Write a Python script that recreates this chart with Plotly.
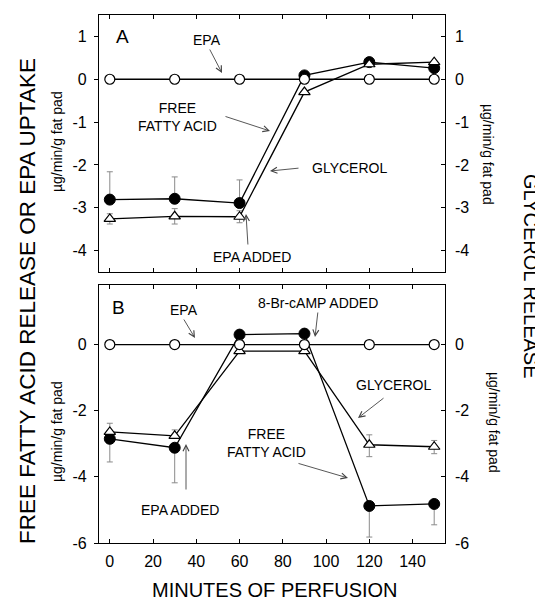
import plotly.graph_objects as go

# ---------------- data ----------------
minutes = [0, 30, 60, 90, 120, 150]

# Panel A
epa_a = [0, 0, 0, 0, 0, 0]
ffa_a = [-2.81, -2.79, -2.89, 0.09, 0.40, 0.26]
ffa_a_err_up = [0.65, 0.51, 0.54, 0, 0, 0]
gly_a = [-3.26, -3.20, -3.21, -0.30, 0.35, 0.40]
gly_a_err = [0.12, 0.18, 0.14, 0, 0, 0]

# Panel B
epa_b = [0, 0, 0, 0, 0, 0]
ffa_b = [-2.85, -3.12, 0.30, 0.33, -4.88, -4.82]
ffa_b_err_down = [0.70, 1.06, 0, 0, 0.94, 0.63]
gly_b = [-2.64, -2.76, -0.20, -0.20, -3.03, -3.09]
gly_b_err_up = [0.26, 0.18, 0, 0, 0.30, 0.19]
gly_b_err_down = [0.05, 0.08, 0, 0, 0.36, 0.21]

x_ticks = [0, 20, 40, 60, 80, 100, 120, 140]
ya_ticks = [1, 0, -1, -2, -3, -4]
yb_ticks = [0, -2, -4, -6]
ya_labels = ["1", "0", "-1", "-2", "-3", "-4"]
yb_labels = ["0", "-2", "-4", "-6"]

# ---------------- layout geometry ----------------
# The page body adds an 8px margin; work in page pixels and subtract it.
OFF = 8
PAGE_W, PAGE_H = 543, 602
W, H = PAGE_W - OFF, PAGE_H - OFF
FR_L, FR_R, FR_T, FR_B = 99, 445, 15, 543   # frame edges in page pixels
L = FR_L - OFF
R = PAGE_W - FR_R
T = FR_T - OFF
B = PAGE_H - FR_B
PW = W - L - R
PH = H - T - B
FONT = "Liberation Sans, Arial, Helvetica, sans-serif"


def px(x):
    return (x - FR_L) / PW


def py(y):
    return (FR_B - y) / PH


a_dom = [py(272), 1.0]
b_dom = [0.0, py(285)]

fig = go.Figure()

err_style = dict(color="#8a8a8a", thickness=1, width=3)
line_style = dict(color="black", width=1.3)


def add_panel(xa, ya, ffa, ffa_err, gly, gly_err, epa):
    fig.add_trace(go.Scatter(
        x=minutes, y=ffa, xaxis=xa, yaxis=ya, mode="lines+markers",
        line=line_style,
        marker=dict(symbol="circle", size=11, color="black",
                    line=dict(color="black", width=1)),
        error_y=dict(type="data", **ffa_err, **err_style),
        showlegend=False, name="Free fatty acid"))
    fig.add_trace(go.Scatter(
        x=minutes, y=gly, xaxis=xa, yaxis=ya, mode="lines+markers",
        line=line_style,
        marker=dict(symbol="triangle-up", size=10, color="white",
                    line=dict(color="black", width=1.2)),
        error_y=dict(type="data", **gly_err, **err_style),
        showlegend=False, name="Glycerol"))
    fig.add_trace(go.Scatter(
        x=minutes, y=epa, xaxis=xa, yaxis=ya, mode="lines+markers",
        line=line_style,
        marker=dict(symbol="circle", size=10, color="white",
                    line=dict(color="black", width=1.2)),
        showlegend=False, name="EPA"))


add_panel("x", "y", ffa_a,
          dict(array=ffa_a_err_up, arrayminus=[0] * 6, symmetric=False),
          gly_a, dict(array=gly_a_err, symmetric=True), epa_a)
add_panel("x2", "y2", ffa_b,
          dict(array=[0] * 6, arrayminus=ffa_b_err_down, symmetric=False),
          gly_b, dict(array=gly_b_err_up, arrayminus=gly_b_err_down,
                      symmetric=False), epa_b)

# invisible traces to carry the right-hand (glycerol) axes
fig.add_trace(go.Scatter(x=minutes, y=gly_a, xaxis="x", yaxis="y3",
                         mode="markers", marker=dict(opacity=0),
                         hoverinfo="skip", showlegend=False))
fig.add_trace(go.Scatter(x=minutes, y=gly_b, xaxis="x2", yaxis="y4",
                         mode="markers", marker=dict(opacity=0),
                         hoverinfo="skip", showlegend=False))

tickfont = dict(family=FONT, size=16, color="black")
xcommon = dict(range=[-5, 155], tickvals=x_ticks, ticks="inside", ticklen=4,
               tickwidth=1, tickcolor="black", showline=True, linecolor="black",
               linewidth=1.2, mirror="ticks", showgrid=False, zeroline=False,
               tickfont=tickfont, domain=[0, 1], ticklabelstandoff=4)
ycommon = dict(ticks="outside", ticklen=4, tickwidth=1, tickcolor="black",
               showline=True, linecolor="black", linewidth=1.2, mirror=True,
               showgrid=False, zeroline=False, tickfont=tickfont,
               ticklabelstandoff=4)
yright = dict(side="right", ticks="inside", ticklen=4, tickwidth=1,
              tickcolor="black", showline=False, showgrid=False,
              zeroline=False, tickfont=tickfont, ticklabelstandoff=9)

fig.update_layout(
    width=W, height=H,
    margin=dict(l=L, r=R, t=T, b=B, pad=0),
    paper_bgcolor="white", plot_bgcolor="white",
    font=dict(family=FONT, color="black"),
    xaxis=dict(anchor="y", showticklabels=False, **xcommon),
    xaxis2=dict(anchor="y2", showticklabels=True, **xcommon),
    yaxis=dict(anchor="x", domain=a_dom, range=[-4.5, 1.5],
               tickvals=ya_ticks, ticktext=ya_labels, **ycommon),
    yaxis2=dict(anchor="x2", domain=b_dom, range=[-6, 1.8],
                tickvals=yb_ticks, ticktext=yb_labels, **ycommon),
    yaxis3=dict(overlaying="y", anchor="x", range=[-4.5, 1.5],
                tickvals=ya_ticks, ticktext=ya_labels, **yright),
    yaxis4=dict(overlaying="y2", anchor="x2", range=[-6, 1.8],
                tickvals=yb_ticks, ticktext=yb_labels, **yright),
)

ann = []


def text(x, y, s, size=14, angle=0):
    ann.append(dict(x=px(x), y=py(y), xref="paper", yref="paper", text=s,
                    showarrow=False, textangle=angle, xanchor="center",
                    yanchor="middle",
                    font=dict(family=FONT, size=size, color="black")))


def arrow(hx, hy, tx, ty):
    ann.append(dict(x=px(hx), y=py(hy), xref="paper", yref="paper", text="",
                    showarrow=True, arrowhead=5, arrowsize=1.3, arrowwidth=0.9,
                    arrowcolor="#444", ax=tx - hx, ay=ty - hy))


# Panel A labels
text(122, 37, "A", 19)
text(207, 40, "EPA")
text(177, 117, "FREE<br>FATTY ACID")
text(349, 168, "GLYCEROL")
text(252, 257, "EPA ADDED")
arrow(222, 73, 209, 48)
arrow(270, 131, 224, 116)
arrow(270, 171, 300, 168)
arrow(246, 214, 248, 246)

# Panel B labels
text(118, 307, "B", 19)
text(184, 310, "EPA")
text(318, 303, "8-Br-cAMP ADDED")
text(393, 385, "GLYCEROL")
text(266, 443, "FREE<br>FATTY ACID")
text(180, 510, "EPA ADDED")
arrow(195, 338, 183, 318)
arrow(315, 337, 318, 311)
arrow(358, 418, 385, 397)
arrow(348, 478, 297, 463)
arrow(186, 444, 186, 491)

# Axis titles and units
text(275, 590, "MINUTES OF PERFUSION", 20)
text(27, 301, "FREE FATTY ACID RELEASE OR EPA UPTAKE", 22.5, -90)
text(531, 276, "GLYCEROL RELEASE", 20, 90)
text(57, 142, "µg/min/g fat pad", 14, -90)
text(57, 432, "µg/min/g fat pad", 14, -90)
text(488, 155, "µg/min/g fat pad", 14, 90)
text(494, 422, "µg/min/g fat pad", 14, 90)

fig.update_layout(annotations=ann)
fig.write_html("out.html")
